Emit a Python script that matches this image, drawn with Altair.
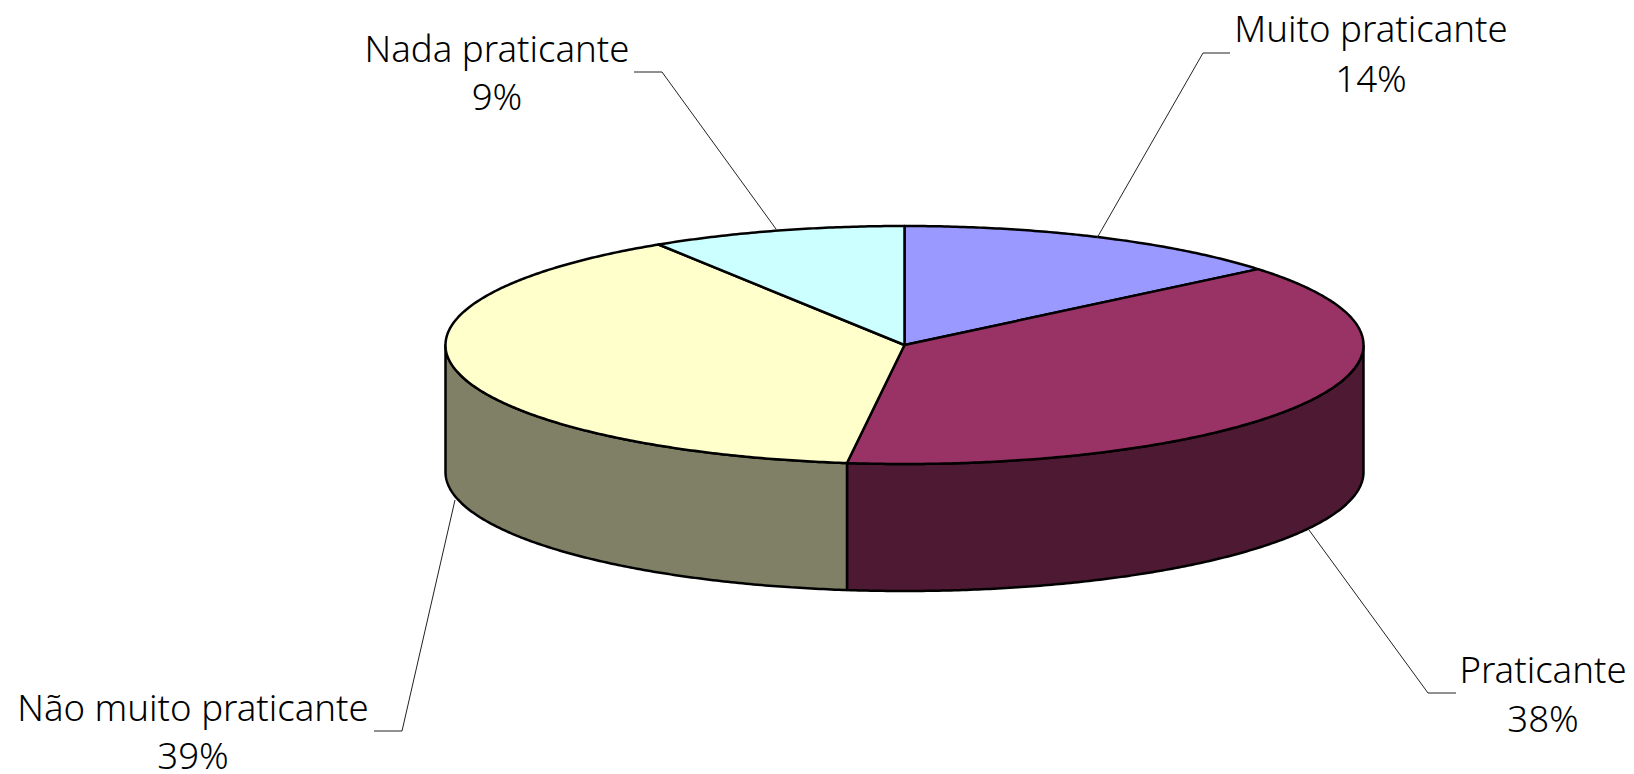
import numpy as np
import pandas as pd
import altair as alt

categories = ["Muito praticante", "Praticante", "Não muito praticante", "Nada praticante"]
shares = [14, 38, 39, 9]
top_colors = ["#9999FF", "#993366", "#FFFFCC", "#CCFFFF"]
side_colors = ["#4D4D80", "#4D1933", "#808066", "#668080"]

center_x, center_y, radius_x, radius_y, depth = 904.5, 345, 459, 119, 127

label_x = [1371, 1543, 193, 497]
label_y1 = [42, 683, 721, 62]
label_y2 = [92, 732, 769, 110]

leader_x = [[1097, 1203, 1230], [1309, 1428, 1456], [455, 402, 374], [776, 662, 634]]
leader_y = [[238, 53, 53], [530, 693, 693], [500, 731, 731], [229, 72, 72]]

X = alt.X("x:Q", axis=None, scale=alt.Scale(domain=[8, 1626], nice=False, zero=False))
Y = alt.Y("y:Q", axis=None, scale=alt.Scale(domain=[774, 8], nice=False, zero=False))


def rim(a0, a1, dz=0.0):
    n = max(2, int(abs(a1 - a0) * 2) + 2)
    t = np.radians(np.linspace(a0, a1, n))
    return center_x + radius_x * np.sin(t), center_y - radius_y * np.cos(t) + dz


def poly(xs, ys, fill, width=2.5):
    df = pd.DataFrame({"x": xs, "y": ys, "i": range(len(xs))})
    return alt.Chart(df).mark_line(
        fill=fill, stroke="black", strokeWidth=width, interpolate="linear", strokeJoin="round", clip=False
    ).encode(x=X, y=Y, order="i:Q")


edges = np.cumsum([0] + shares) * 3.6
layers = []

# side walls, front half only
for i in range(4):
    a0, a1 = max(edges[i], 90), min(edges[i + 1], 270)
    if a1 <= a0:
        continue
    x_top, y_top = rim(a0, a1)
    x_bot, y_bot = rim(a0, a1, depth)
    xs = list(x_top) + list(x_bot[::-1]) + [x_top[0]]
    ys = list(y_top) + list(y_bot[::-1]) + [y_top[0]]
    layers.append(poly(xs, ys, side_colors[i]))

# top face
for i in range(4):
    x_top, y_top = rim(edges[i], edges[i + 1])
    xs = [center_x] + list(x_top) + [center_x]
    ys = [center_y] + list(y_top) + [center_y]
    layers.append(poly(xs, ys, top_colors[i]))

# leader lines
for i in range(4):
    df = pd.DataFrame({"x": leader_x[i], "y": leader_y[i], "i": range(3)})
    layers.append(
        alt.Chart(df).mark_line(stroke="#222222", strokeWidth=1).encode(x=X, y=Y, order="i:Q")
    )

# labels
labels = pd.DataFrame({
    "x": label_x * 2,
    "y": label_y1 + label_y2,
    "t": categories + [f"{s}%" for s in shares],
})
layers.append(
    alt.Chart(labels).mark_text(
        font="Noto Sans", fontSize=36.6, fontWeight=300, color="black", align="center", baseline="alphabetic"
    ).encode(x=X, y=Y, text="t:N")
)

chart = alt.layer(*layers).properties(
    width=1618, height=766, padding=0, autosize=alt.AutoSizeParams(type="none")
).configure_view(stroke=None)

chart.save("out.html", embed_options={"renderer": "svg", "actions": False})
